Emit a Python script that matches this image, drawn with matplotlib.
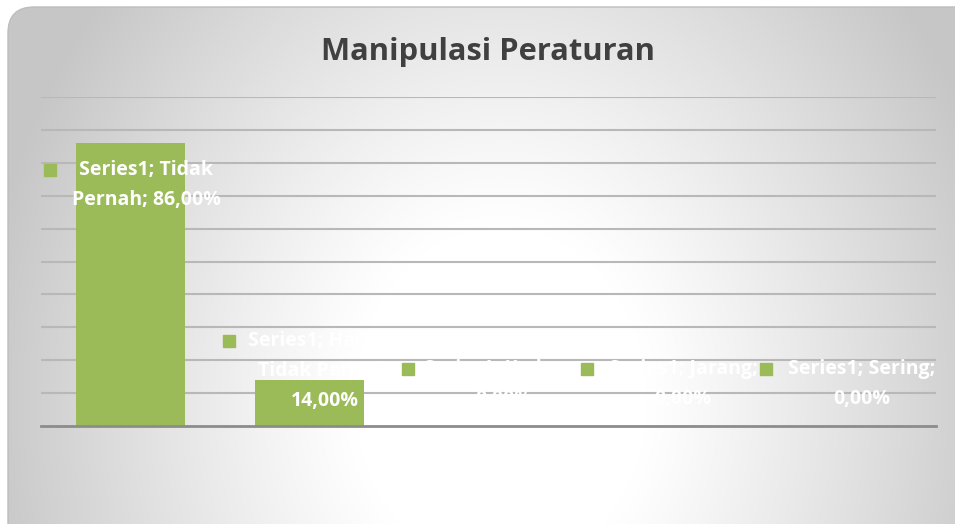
import textwrap
import matplotlib
matplotlib.use('Agg')
import matplotlib.pyplot as plt
import numpy as np
from matplotlib.patches import FancyBboxPatch

# data
categories = ["Tidak Pernah", "Hampir Tidak Pernah", "Kadang", "Jarang", "Sering"]
values = [86, 14, 0, 0, 0]
series_name = "Series1"
title = "Manipulasi Peraturan"

W, H = 955, 524
green = '#9bbb59'

plt.rcParams['font.family'] = ['Open Sans', 'DejaVu Sans']

fig = plt.figure(figsize=(W / 100, H / 100), dpi=100)

# background: rounded frame with radial grey-to-white gradient
bg = fig.add_axes([0, 0, 1, 1])
bg.set_xlim(0, W)
bg.set_ylim(H, 0)
bg.axis('off')
yy, xx = np.mgrid[0:H, 0:W]
t = np.sqrt(((xx - 500) / 520.) ** 2 + ((yy - 400) / 620.) ** 2)
t = np.clip((t - 0.28) / 0.72, 0, 1)
shade = 1 - 0.22 * t ** 1.1
img = np.dstack([shade] * 3)
frame = FancyBboxPatch((8, 7), W + 20, H + 20,
                       boxstyle='round,pad=0,rounding_size=26',
                       fc='none', ec='#bdbdbd', lw=1)
bg.add_patch(frame)
im = bg.imshow(img, extent=(0, W, H, 0), interpolation='bilinear', aspect='auto')
im.set_clip_path(frame)

# chart area
ax = fig.add_axes([41 / W, 1 - 426 / H, (936 - 41) / W, (426 - 97) / H])
ax.patch.set_alpha(0)
x = np.arange(len(categories))
ax.bar(x, values, width=0.61, color=green, zorder=2)
ax.set_xlim(-0.5, len(categories) - 0.5)
ax.set_ylim(0, 100)
ax.set_yticks(np.arange(10, 101, 10))
ax.yaxis.grid(True, color='#b8b8b8', lw=1.5)
ax.set_axisbelow(True)
for s in ['top', 'left', 'right']:
    ax.spines[s].set_visible(False)
ax.spines['bottom'].set_color('#8c8c8c')
ax.spines['bottom'].set_linewidth(2)
ax.spines['bottom'].set_zorder(3)
ax.tick_params(length=0, labelleft=False, labelbottom=False)

# data labels (white, with legend key square)
label_top = [81, 29, 20.5, 20.5, 20.5]
for i, (cat, val) in enumerate(zip(categories, values)):
    txt = f"{series_name}; {cat}; {val:.2f}%".replace('.', ',')
    txt = "\n".join(textwrap.wrap(txt, 16))
    ax.text(i + 0.087, label_top[i], txt, ha='center', va='top', color='white',
            fontsize=14, fontweight='bold', linespacing=1.68, zorder=4)
    ax.plot(i - 0.45, label_top[i] - 3.2, marker='s', ms=9, color=green,
            zorder=4, clip_on=False)

fig.text(488 / W, 1 - 52 / H, title, ha='center', va='center',
         fontsize=22.2, fontweight='bold', color='#404040')

fig.savefig('out.png', dpi=100)
